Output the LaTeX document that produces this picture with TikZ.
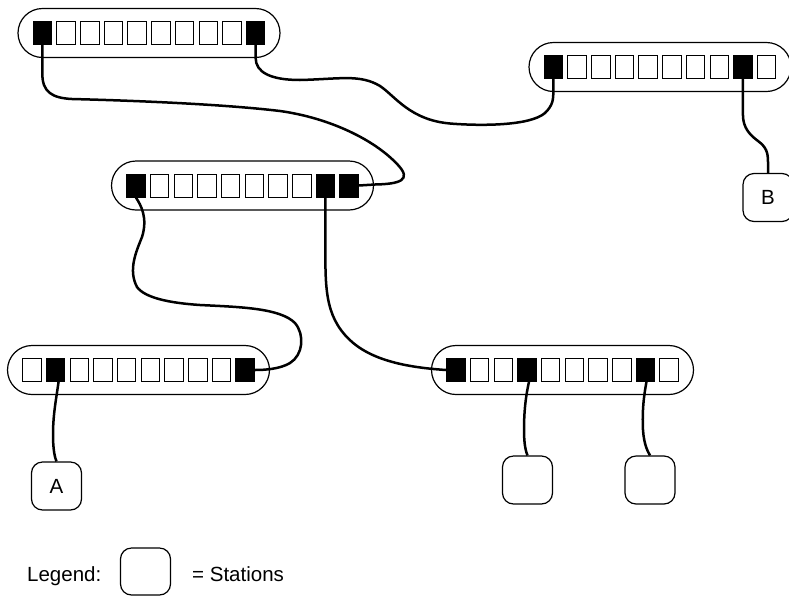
\documentclass[tikz,border=0pt]{standalone}
\usepackage{fontspec}
\setmainfont{Liberation Sans}
\tikzset{
  pill/.style={draw, line width=1.2pt, rounded corners=24.5pt, minimum width=262pt, minimum height=49pt, inner sep=0pt},
  port/.style={draw, line width=0.9pt, minimum width=18.5pt, minimum height=23pt, inner sep=0pt},
  station/.style={draw, line width=1.2pt, rounded corners=11pt, minimum width=50pt, minimum height=48pt, inner sep=0pt, font=\fontsize{20.5}{24}\selectfont},
  cable/.style={line width=2.5pt},
  lbl/.style={inner sep=0pt, anchor=base west, font=\fontsize{20.5}{24}\selectfont}
}
\newcommand\drawhub[4]{%
  \node[pill] (#1) at (#2,#3) {};
  \foreach \c [count=\i] in {#4} {
    \node[port, fill=\c] (#1p\i) at ({#2+(\i-5.5)*23.7},#3) {};
  }
}
\begin{document}
\begin{tikzpicture}[x=1pt, y=-1pt]
\useasboundingbox (0,0) rectangle (789,595);

% hubs
\drawhub{h1}{149}{33}{black,white,white,white,white,white,white,white,white,black}
\drawhub{h2}{660}{67}{black,white,white,white,white,white,white,white,black,white}
\drawhub{h3}{242.5}{185.5}{black,white,white,white,white,white,white,white,black,black}
\drawhub{h4}{138.5}{370}{white,black,white,white,white,white,white,white,white,black}
\drawhub{h5}{562.5}{370}{black,white,white,black,white,white,white,white,black,white}

% stations
\node[station] (A) at (56.5,486) {A};
\node[station] (B) at (768,197.5) {B};
\node[station] (s1) at (527.5,480) {};
\node[station] (s2) at (650,480) {};

% cables
\draw[cable] (h1p1.south) -- (42.35,74)
  .. controls (42.35,92) and (52,98) .. (72,99)
  .. controls (150,101) and (230,105) .. (280,111)
  .. controls (330,118) and (375,140) .. (398,165)
  .. controls (412,180) and (400,184) .. (375,184.5) -- (h3p10.east);

\draw[cable] (h1p10.south) -- (255.65,58)
  .. controls (255.65,72) and (270,80) .. (300,80)
  .. controls (340,79) and (360,74) .. (380,86)
  .. controls (395,96) and (410,120) .. (450,123.5)
  .. controls (480,126) and (530,126) .. (545,113)
  .. controls (553,105) and (553.35,100) .. (553.35,90) -- (h2p1.south);

\draw[cable] (h2p9.south) -- (742.95,115)
  .. controls (743,128) and (750,135) .. (758,141)
  .. controls (766,147) and (768,152) .. (768,162) -- (B.north);

\draw[cable] (h3p1.south)
  .. controls (141,205) and (148,218) .. (142,237)
  .. controls (136,252) and (128,270) .. (137,287)
  .. controls (145,298) and (170,303) .. (200,305)
  .. controls (240,307) and (280,308) .. (295,323)
  .. controls (305,335) and (303,355) .. (290,363)
  .. controls (280,369) and (265,370) .. (h4p10.east);

\draw[cable] (h3p9.south) -- (325.45,230)
  .. controls (325.45,280) and (323,310) .. (345,335)
  .. controls (365,358) and (400,367) .. (h5p1.west);

\draw[cable] ([xshift=3pt]h4p2.south)
  .. controls (56,400) and (53,415) .. (53,435)
  .. controls (53,450) and (55,458) .. (A.north);

\draw[cable] ([xshift=2pt]h5p4.south)
  .. controls (526,395) and (524,410) .. (524,430)
  .. controls (524,445) and (526,452) .. (s1.north);

\draw[cable] ([xshift=1pt]h5p9.south)
  .. controls (644,395) and (642,410) .. (643,430)
  .. controls (644,445) and (648,452) .. (s2.north);

% legend
\node[lbl] (leg) at (27,581) {Legend:};
\node[station, minimum height=47pt] (legbox) at (145.5,571.5) {};
\node[lbl] (legtxt) at (192,581) {= Stations};
\end{tikzpicture}
\end{document}
